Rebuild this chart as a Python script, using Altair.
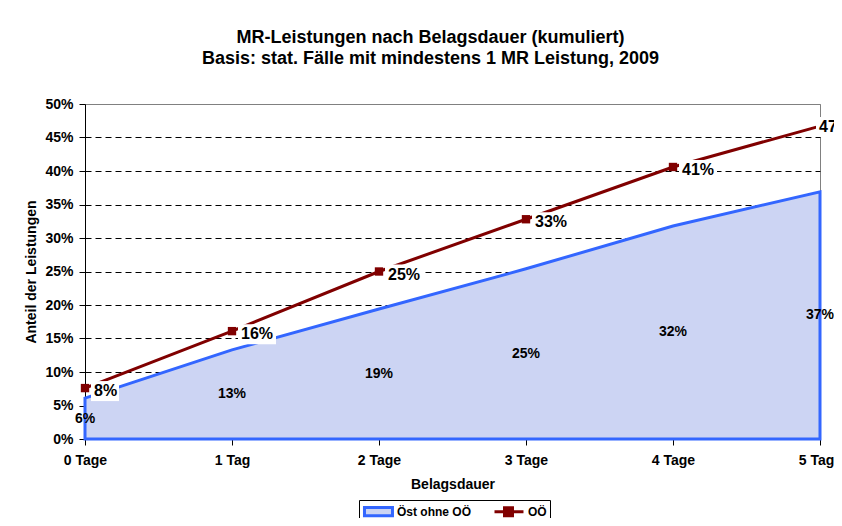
import altair as alt
import pandas as pd

categories = ["0 Tage", "1 Tag", "2 Tage", "3 Tage", "4 Tage", "5 Tage"]
oest_values = [0.061, 0.133, 0.194, 0.254, 0.318, 0.369]
ooe_values = [0.076, 0.161, 0.250, 0.328, 0.406, 0.467]
oest_labels = ["6%", "13%", "19%", "25%", "32%", "37%"]
ooe_labels = ["8%", "16%", "25%", "33%", "41%", "47%"]
series_names = ["Öst ohne OÖ", "OÖ"]
y_ticks = [0, 0.05, 0.1, 0.15, 0.2, 0.25, 0.3, 0.35, 0.4, 0.45, 0.5]

FONT = "Liberation Sans"
BLUE = "#3366ff"
FILL = "#ccd4f3"
RED = "#800000"
SYM_AREA = "M-0.86,-0.6H3.14V0.6H-0.86Z"
SYM_LINE = "M-1,0H3.14M0.43,-0.57H1.57V0.57H0.43Z"

rows = []
for c, v, l in zip(categories, oest_values, oest_labels):
    rows.append({"cat": c, "series": series_names[0], "value": v, "label": l})
for c, v, l in zip(categories, ooe_values, ooe_labels):
    rows.append({"cat": c, "series": series_names[1], "value": v, "label": l})
df = pd.DataFrame(rows)

x = alt.X(
    "cat:N",
    sort=categories,
    scale=alt.Scale(type="point", padding=0),
    axis=alt.Axis(
        title="Belagsdauer",
        labelAngle=0,
        labelFont=FONT,
        labelFontSize=14,
        labelFontWeight="bold",
        labelColor="black",
        labelPadding=8,
        tickSize=6,
        tickColor="black",
        domainColor="black",
        titleFont=FONT,
        titleFontSize=14,
        titleFontWeight="bold",
        titleColor="black",
        titlePadding=10,
    ),
)
y_scale = alt.Scale(domain=[0, 0.5], nice=False, zero=True)
y_axis = alt.Axis(
    title="Anteil der Leistungen",
    format=".0%",
    values=y_ticks,
    labelOverlap=False,
    labelFont=FONT,
    labelFontSize=14,
    labelFontWeight="bold",
    labelColor="black",
    labelPadding=6,
    tickSize=6,
    tickColor="black",
    domainColor="black",
    grid=True,
    gridDash=[6, 4],
    gridColor={"condition": {"test": "datum.value >= 0.499", "value": "#808080"}, "value": "#000000"},
    gridWidth=1,
    titleFont=FONT,
    titleFontSize=14,
    titleFontWeight="bold",
    titleColor="black",
    titlePadding=6,
)
y = alt.Y("value:Q", scale=y_scale, axis=y_axis)
y_half = alt.Y("half:Q", scale=y_scale, axis=y_axis)
y2 = alt.Y2("value:Q")

legend = alt.Legend(
    orient="none",
    legendX=274,
    legendY=396,
    direction="horizontal",
    title=None,
    strokeColor="black",
    fillColor="white",
    padding=3,
    labelFont=FONT,
    labelFontSize=12,
    labelFontWeight="bold",
    labelColor="black",
    labelOffset=18,
    columnPadding=16,
    symbolSize=196,
    symbolStrokeWidth=3,
    symbolOpacity=1,
)

base = alt.Chart(df)
oest = base.transform_filter(alt.datum.series == series_names[0])
ooe = base.transform_filter(alt.datum.series == series_names[1])
ooe_mid = ooe.transform_filter(alt.datum.cat != categories[-1])
ooe_last = ooe.transform_filter(alt.datum.cat == categories[-1])

area = oest.mark_area(fill=FILL, stroke=BLUE, strokeWidth=3, opacity=1).encode(x=x, y=y)

line = ooe.mark_line(strokeWidth=3, color=RED).encode(x=x, y=y)

box_short = ooe_mid.transform_filter("length(datum.label) < 3").mark_rect(
    fill="white", xOffset=6, x2Offset=34, yOffset=-7, y2Offset=13
).encode(x=x, x2="cat:N", y=y, y2=y2)
box_long = ooe_mid.transform_filter("length(datum.label) >= 3").mark_rect(
    fill="white", xOffset=6, x2Offset=44, yOffset=-7, y2Offset=13
).encode(x=x, x2="cat:N", y=y, y2=y2)
box_last = ooe_last.mark_rect(
    fill="white", xOffset=-4, x2Offset=40, yOffset=-9, y2Offset=11
).encode(x=x, x2="cat:N", y=y, y2=y2)

pts = ooe_mid.mark_point(shape="square", filled=True, size=70, color=RED, opacity=1).encode(x=x, y=y)

ooe_text = ooe_mid.mark_text(
    align="left", baseline="middle", dx=9, dy=3, font=FONT, fontSize=16, fontWeight="bold", color="black"
).encode(x=x, y=y, text="label:N")
ooe_text_last = ooe_last.mark_text(
    align="left", baseline="middle", dx=-1, dy=1, font=FONT, fontSize=16, fontWeight="bold", color="black"
).encode(x=x, y=y, text="label:N")

oest_text = oest.transform_calculate(half="datum.value / 2").mark_text(
    align="center", baseline="middle", font=FONT, fontSize=14, fontWeight="bold", color="black"
).encode(x=x, y=y_half, text="label:N")

legend_layer = base.transform_filter("false").mark_point(filled=True, opacity=1, strokeWidth=3).encode(
    x=x,
    y=y,
    shape=alt.Shape("series:N", sort=series_names, scale=alt.Scale(domain=series_names, range=[SYM_AREA, SYM_LINE]), legend=legend),
    fill=alt.Fill("series:N", sort=series_names, scale=alt.Scale(domain=series_names, range=[FILL, RED]), legend=legend),
    stroke=alt.Stroke("series:N", sort=series_names, scale=alt.Scale(domain=series_names, range=[BLUE, RED]), legend=legend),
)

chart = (
    alt.layer(area, line, box_short, box_long, box_last, pts, ooe_text, ooe_text_last, oest_text, legend_layer)
    .properties(
        width=735,
        height=335,
        autosize=alt.AutoSizeParams(type="none"),
        padding={"left": 77, "top": 96, "right": 14, "bottom": 79},
        title=alt.TitleParams(
            text=["MR-Leistungen nach Belagsdauer (kumuliert)", "Basis: stat. Fälle mit mindestens 1 MR Leistung, 2009"],
            font=FONT,
            fontSize=18,
            fontWeight="bold",
            color="black",
            anchor="middle",
            dx=-22,
            offset=29,
            lineHeight=21,
        ),
        background="white",
    )
    .configure_view(stroke="#808080", strokeWidth=1)
)

chart.save("out.html", embed_options={"renderer": "svg", "actions": False})
